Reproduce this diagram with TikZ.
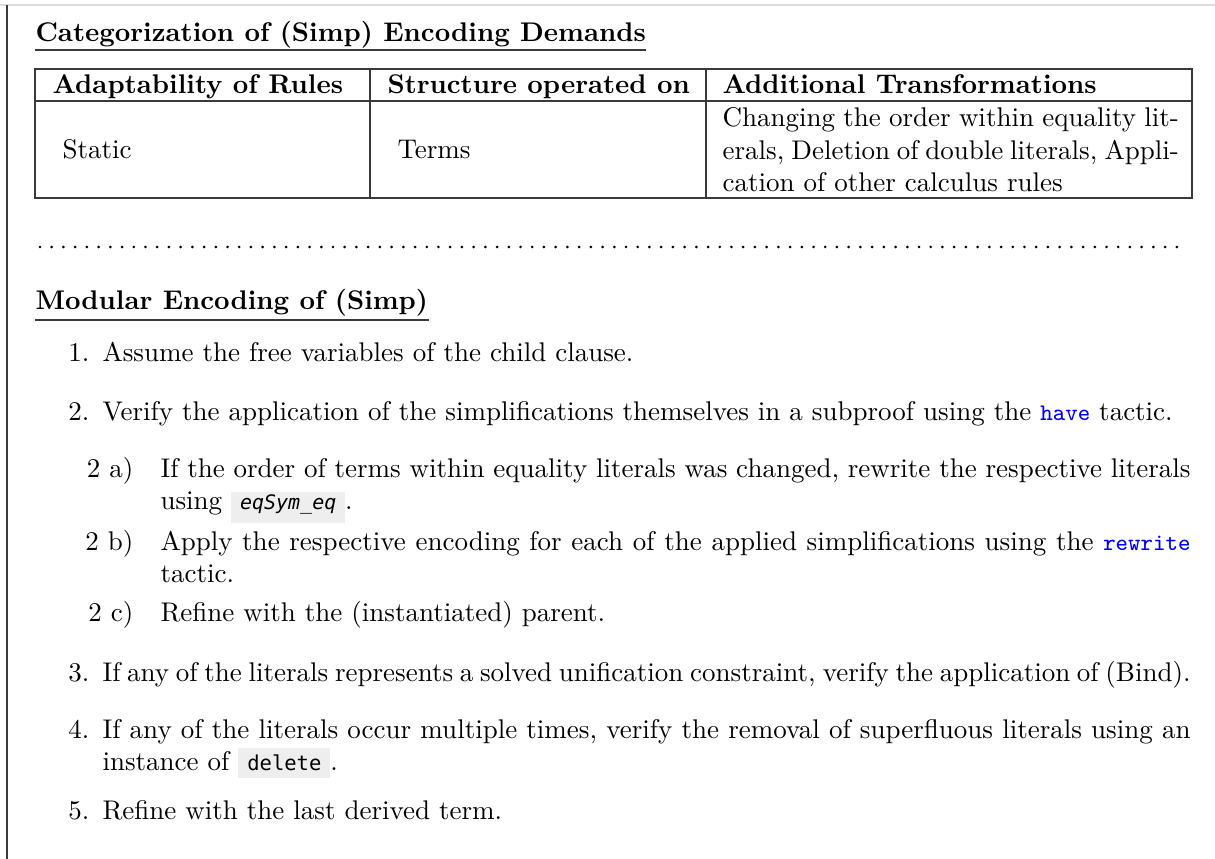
\documentclass[tikz,border=0pt]{standalone}
\usepackage{fontspec}
\usepackage{xcolor}
\newfontfamily\codefont{DejaVu Sans Mono}
\definecolor{codebg}{HTML}{EEEEEE}
\definecolor{rulegray}{HTML}{3A3A3A}
\definecolor{framegray}{HTML}{DDDDDD}
\definecolor{kwblue}{HTML}{0000FF}
\newcommand\mainsize{\fontsize{10pt}{12pt}\selectfont}
\newcommand\itemsize{\fontsize{10pt}{11.6pt}\selectfont}
\newcommand\kw[1]{{\ttfamily\fontsize{8.8pt}{11pt}\selectfont\addfontfeatures{FakeBold=1.5}\color{kwblue}#1}}
\newcommand\hlbox[3]{{\setlength{\fboxsep}{0pt}\colorbox{codebg}{\rule[-#1]{0pt}{#2}\hspace{3.3pt}#3\hspace{3.3pt}}}}
\tikzset{
  txt/.style={inner sep=0pt, anchor=base west, font=\mainsize},
  bold/.style={txt, font=\mainsize\bfseries},
  lbl/.style={inner sep=0pt, anchor=base east, font=\mainsize},
  item/.style={txt, font=\itemsize, text width=403pt, align=justify},
  subitem/.style={txt, font=\itemsize, text width=381.5pt, align=justify},
  cell/.style={txt, text width=169pt, align=justify},
  ul/.style={draw=rulegray, line width=0.5pt},
  tbl/.style={draw=rulegray, line width=0.45pt},
}
\begin{document}
\begin{tikzpicture}[x=0.37037pt,y=-0.37037pt]
\useasboundingbox (0,0) rectangle (1215,859);
\draw[framegray, line width=0.5pt] (0,5) -- (1215,5);
\draw[rulegray, line width=0.6pt] (7,5) -- (7,859);

% Title 1
\node[bold] (t1) at (35,42) {Categorization of (Simp) Encoding Demands};
\draw[ul] (t1.base west |- 0,50) -- (t1.base east |- 0,50);

% Table
\draw[tbl] (35,69) rectangle (1192,198);
\draw[tbl] (35,101) -- (1192,101);
\draw[tbl] (370,69) -- (370,198);
\draw[tbl] (706,69) -- (706,198);
\node[bold] (h1) at (52,94) {Adaptability of Rules};
\node[bold] (h2) at (387,94) {Structure operated on};
\node[bold] (h3) at (722,94) {Additional Transformations};
\node[txt] (c1) at (62,159) {Static};
\node[txt] (c2) at (397,159) {Terms};
\node[cell] (c3) at (722,127) {Changing the order within equality lit-\linebreak erals, Deletion of double literals, Appli-\linebreak cation of other calculus rules};

% dotted separator
\foreach \i in {0,...,97} \fill[black] (40+\i*11.72,247) circle (0.55pt);

% Title 2
\node[bold] (t2) at (35,310) {Modular Encoding of (Simp)};
\draw[ul] (t2.base west |- 0,320) -- (t2.base east |- 0,320);

% List
\node[lbl] (n1) at (90,362) {1.};
\node[item] (i1) at (102,362) {Assume the free variables of the child clause.};
\node[lbl] (n2) at (90,421) {2.};
\node[item] (i2) at (102,421) {Verify the application of the simplifications themselves in a subproof using the \kw{have} tactic.};
\node[lbl] (n2a) at (134,478) {2 a)};
\node[subitem] (i2a) at (160,478) {If the order of terms within equality literals was changed, rewrite the respective literals\linebreak using \hlbox{5pt}{11.4pt}{\codefont\fontsize{7.4pt}{9pt}\selectfont\itshape eqSym\_eq}.};
\node[lbl] (n2b) at (134,551) {2 b)};
\node[subitem] (i2b) at (160,551) {Apply the respective encoding for each of the applied simplifications using the \kw{rewrite}\linebreak tactic.};
\node[lbl] (n2c) at (134,622) {2 c)};
\node[subitem] (i2c) at (160,622) {Refine with the (instantiated) parent.};
\node[lbl] (n3) at (90,682) {3.};
\node[item] (i3) at (102,682) {If any of the literals represents a solved unification constraint, verify the application of (Bind).};
\node[lbl] (n4) at (90,739) {4.};
\node[item] (i4) at (102,739) {If any of the literals occur multiple times, verify the removal of superfluous literals using an\linebreak instance of \hlbox{2.7pt}{11.1pt}{\codefont\fontsize{7.6pt}{9pt}\selectfont delete}.};
\node[lbl] (n5) at (90,820) {5.};
\node[item] (i5) at (102,820) {Refine with the last derived term.};
\end{tikzpicture}
\end{document}
